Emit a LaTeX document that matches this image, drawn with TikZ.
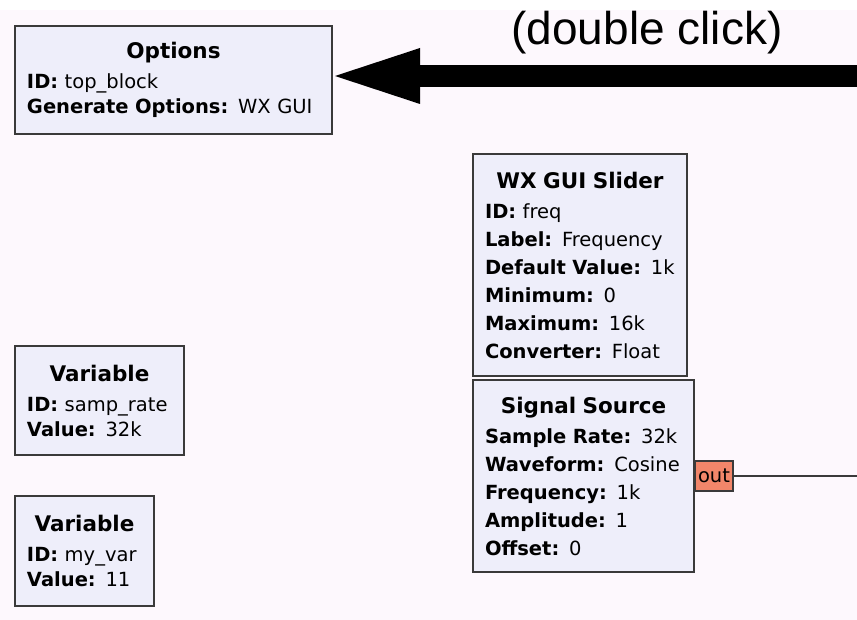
\documentclass[tikz,border=0pt]{standalone}
\usepackage{fontspec}
\setmainfont{DejaVu Sans}
\newfontfamily\notefont{Liberation Sans}
\usetikzlibrary{positioning,arrows.meta}
\definecolor{canvas}{HTML}{FDF8FD}
\definecolor{blockfill}{HTML}{EEEEFA}
\definecolor{blockline}{HTML}{3A3A3A}
\definecolor{portfill}{HTML}{F2866A}
\tikzset{
  block/.style={draw=blockline,line width=2pt,fill=blockfill,anchor=north west,align=left,
    inner xsep=12pt,inner ysep=0pt,outer sep=0pt,font=\fontsize{19.5}{25}\selectfont},
  tallblock/.style={block,font=\fontsize{19.5}{28}\selectfont},
  port/.style={draw=blockline,line width=1.5pt,fill=portfill,inner xsep=3pt,inner ysep=0pt,
    outer sep=0pt,minimum height=30pt,font=\fontsize{19.5}{22}\selectfont},
  wire/.style={draw=blockline,line width=1.5pt},
  bigarrow/.style={line width=22pt,-{Triangle[length=85pt,width=56pt,line width=0pt]}}
}
\newcommand{\blocktitle}[1]{\makebox[\linewidth]{\fontsize{21.5}{25}\selectfont\textbf{#1}}}
\begin{document}
\begin{tikzpicture}[x=1pt,y=-1pt]
  \useasboundingbox (0,0) rectangle (857,620);
  \fill[white] (0,0) rectangle (857,620);
  \fill[canvas] (0,10) rectangle (857,620);
  \node[block,text width=293pt,minimum height=108pt] (opts) at (15,26)
    {\blocktitle{Options}\\[5pt]\textbf{ID:} top\_block\\\textbf{Generate Options:} WX GUI};
  \node[tallblock,text width=190pt,minimum height=222pt] (slider) at (473,154)
    {\blocktitle{WX GUI Slider}\\[2pt]\textbf{ID:} freq\\\textbf{Label:} Frequency\\
     \textbf{Default Value:} 1k\\\textbf{Minimum:} 0\\\textbf{Maximum:} 16k\\\textbf{Converter:} Float};
  \node[tallblock,text width=197pt,minimum height=192pt] (sig) at (473,380)
    {\blocktitle{Signal Source}\\[2pt]\textbf{Sample Rate:} 32k\\\textbf{Waveform:} Cosine\\
     \textbf{Frequency:} 1k\\\textbf{Amplitude:} 1\\\textbf{Offset:} 0};
  \node[block,text width=145pt,minimum height=109pt] (samprate) at (15,346)
    {\blocktitle{Variable}\\[5pt]\textbf{ID:} samp\_rate\\\textbf{Value:} 32k};
  \node[block,text width=115pt,minimum height=110pt] (myvar) at (15,496)
    {\blocktitle{Variable}\\[5pt]\textbf{ID:} my\_var\\\textbf{Value:} 11};
  \node[port,right=1pt of sig] (out) {out};
  \coordinate (wireend) at (857,476);
  \draw[wire] (out) -- (wireend);
  \node[font=\notefont\fontsize{46}{50}\selectfont,anchor=base,inner sep=0pt] (hint) at (647,45) {(double click)};
  \coordinate (clicktail) at (857,76);
  \draw[bigarrow] (clicktail) -- ([xshift=3pt]opts.east |- clicktail);
\end{tikzpicture}
\end{document}
